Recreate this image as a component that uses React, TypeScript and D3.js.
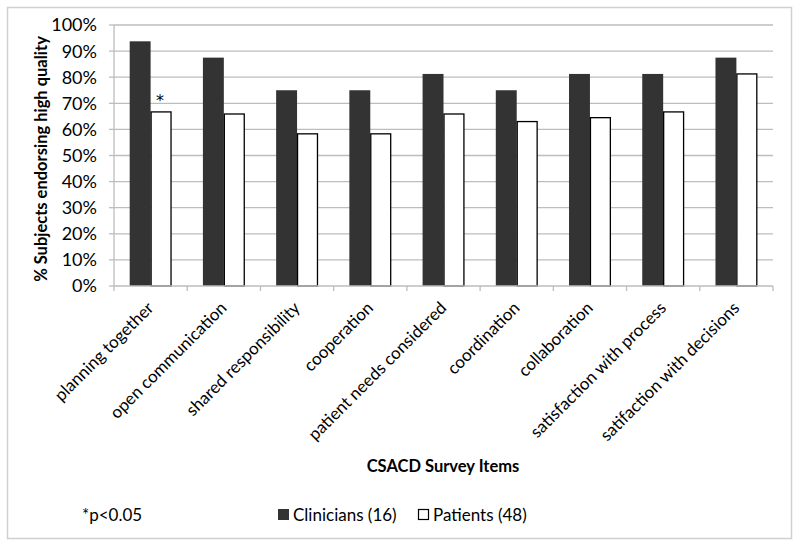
import React from "react";
import * as d3 from "d3";

const categories = [
  "planning together",
  "open communication",
  "shared responsibility",
  "cooperation",
  "patient needs considered",
  "coordination",
  "collaboration",
  "satisfaction with process",
  "satifaction with decisions",
];
const clinicians = [93.75, 87.5, 75, 75, 81.25, 75, 81.25, 81.25, 87.5];
const patients = [66.7, 65.9, 58.3, 58.3, 65.9, 63.0, 64.5, 66.7, 81.25];
const seriesNames = ["Clinicians (16)", "Patients (48)"];
const yTicks = [0, 10, 20, 30, 40, 50, 60, 70, 80, 90, 100];
const starIndex = 0;

const FONT = "Lato, Calibri, 'Open Sans', sans-serif";

export default function App() {
  const W = 800, H = 547;
  const left = 114, right = 773, top = 25, bottom = 286;
  const x = d3.scaleBand<string>().domain(categories).range([left, right]).paddingInner(0).paddingOuter(0);
  const y = d3.scaleLinear().domain([0, 100]).range([bottom, top]);
  const bw = x.bandwidth() / 3.5;
  const inner = d3.scaleBand<string>().domain(["c", "p"]).range([0, bw * 2]);
  const off = bw * 0.75;

  return (
    <svg width={W} height={H} style={{ position: "absolute", left: 0, top: 0, background: "#fff" }}>
      <rect x={7.5} y={7.5} width={784} height={531} fill="#fff" stroke="#d0d0d0" strokeWidth={1.5} />
      {yTicks.map((t) => (
        <g key={t}>
          {t > 0 && <line x1={left} x2={right} y1={y(t)} y2={y(t)} stroke="#bdbdbd" strokeWidth={1.3} />}
          <line x1={left - 5} x2={left} y1={y(t)} y2={y(t)} stroke="#bdbdbd" strokeWidth={1.3} />
          <text x={97} y={y(t)} dy="0.36em" textAnchor="end" fontFamily={FONT} fontSize={18} fill="#000">
            {t}%
          </text>
        </g>
      ))}
      <line x1={left} x2={left} y1={top} y2={bottom} stroke="#bdbdbd" strokeWidth={1.3} />
      {categories.map((c, i) => {
        const x0 = (x(c) as number) + off;
        return (
          <g key={c}>
            <rect x={x0 + (inner("c") as number)} y={y(clinicians[i])} width={bw} height={bottom - y(clinicians[i])} fill="#333333" />
            <rect x={x0 + (inner("p") as number) + 0.5} y={y(patients[i])} width={bw - 1} height={bottom - y(patients[i])} fill="#fff" stroke="#000" strokeWidth={1.3} />
          </g>
        );
      })}
      {d3.range(categories.length + 1).map((i) => {
        const xx = left + i * x.step();
        return <line key={i} x1={xx} x2={xx} y1={bottom} y2={bottom + 5} stroke="#bdbdbd" strokeWidth={1.3} />;
      })}
      <line x1={left} x2={right} y1={bottom} y2={bottom} stroke="#bdbdbd" strokeWidth={1.3} />
      <text
        x={(x(categories[starIndex]) as number) + off + (inner("p") as number) + bw / 2 - 1}
        y={y(patients[starIndex]) - 6}
        textAnchor="middle"
        fontFamily="'DejaVu Sans', sans-serif"
        fontSize={16}
      >
        *
      </text>
      {categories.map((c) => {
        const cx = (x(c) as number) + x.bandwidth() / 2 + 4;
        const cy = 309;
        return (
          <text key={c} transform={`translate(${cx},${cy}) rotate(-45)`} textAnchor="end" fontFamily={FONT} fontSize={17} fill="#000">
            {c}
          </text>
        );
      })}
      <text transform={`translate(47,159) rotate(-90)`} textAnchor="middle" fontFamily={FONT} fontSize={16.5} fontWeight="bold">
        % Subjects endorsing high quality
      </text>
      <text x={443} y={472} textAnchor="middle" fontFamily={FONT} fontSize={16.5} fontWeight="bold">
        CSACD Survey Items
      </text>
      <text x={82} y={521} fontFamily={FONT} fontSize={17}>
        *p&lt;0.05
      </text>
      <rect x={278} y={509} width={11} height={11} fill="#333333" />
      <text x={293} y={521} fontFamily={FONT} fontSize={17}>
        {seriesNames[0]}
      </text>
      <rect x={418.5} y={509.5} width={10} height={10} fill="#fff" stroke="#000" strokeWidth={1.2} />
      <text x={433} y={521} fontFamily={FONT} fontSize={17}>
        {seriesNames[1]}
      </text>
    </svg>
  );
}
